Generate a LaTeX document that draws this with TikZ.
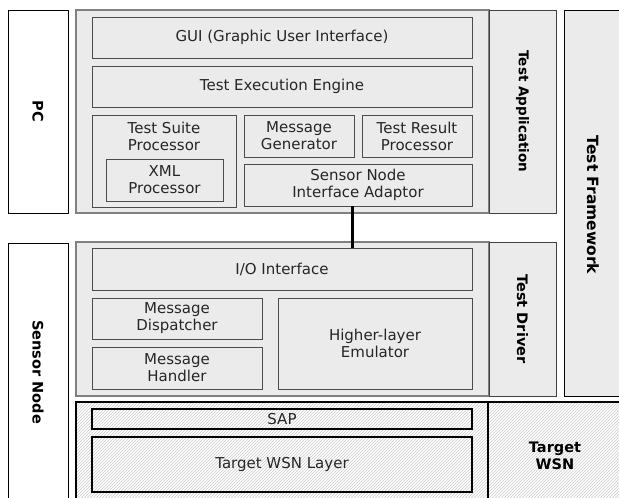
\documentclass[tikz,border=0pt]{standalone}
\usepackage{fontspec}
\setmainfont{DejaVu Sans}
\usetikzlibrary{patterns,calc}
\begin{document}
\begin{tikzpicture}[x=1pt,y=-1pt,
  box/.style={draw=black!70, fill=black!8, line width=0.8pt, inner sep=0pt,
    align=center, font=\fontsize{15}{17}\selectfont, text=black!85},
  container/.style={draw=black!50, fill=black!8, line width=1.5pt, inner sep=0pt},
  column/.style={draw=black!75, fill=black!8, line width=1pt, inner sep=0pt},
  sidebox/.style={draw=black, fill=white, line width=0.8pt, inner sep=0pt},
  lbl/.style={font=\bfseries\fontsize{14.5}{17}\selectfont, rotate=-90, inner sep=0pt},
  wsnbox/.style={draw=black, line width=2.4pt, inner sep=0pt, align=center,
    font=\fontsize{15}{17}\selectfont, text=black!85},
  conn/.style={line width=3pt, black}
]
\useasboundingbox (0,0) rectangle (619,498);
\clip (0,0) rectangle (619,498);
\fill[white] (0,0) rectangle (619,498);

% side boxes
\node[sidebox, minimum width=60, minimum height=203] (pc) at (38,111.5) {};
\node[lbl] at (pc.center) {PC};
\node[sidebox, minimum width=60, minimum height=280] (sn) at (38,383) {};
\node[lbl] at (38,372) {Sensor Node};

% test framework
\node[draw=black, fill=black!8, line width=0.8pt, minimum width=70, minimum height=386, inner sep=0pt] (tf) at (599,203) {};
\node[lbl, font=\bfseries\fontsize{15.5}{17}\selectfont] at (593,205) {Test Framework};

% test application
\node[container, minimum width=413, minimum height=203] (app) at (282.5,111.5) {};
\node[column, minimum width=67, minimum height=203] (appcol) at (522.5,111.5) {};
\node[lbl, font=\bfseries\fontsize{13.5}{17}\selectfont] at (appcol.center) {Test Application};

\node[box, minimum width=380, minimum height=41] (gui) at (282,37.5) {GUI (Graphic User Interface)};
\node[box, minimum width=380, minimum height=41] (tee) at (282,86.5) {Test Execution Engine};
\node[box, minimum width=144, minimum height=92] (tsp) at (164,161) {};
\node[align=center, font=\fontsize{15}{17}\selectfont, text=black!85] at (tsp.center |- 0,136.5) {Test Suite\\Processor};
\node[box, minimum width=117, minimum height=42] (xml) at (164.5,180) {XML\\Processor};
\node[box, minimum width=110, minimum height=42] (mg) at (299,136) {Message\\Generator};
\node[box, minimum width=110, minimum height=42] (trp) at (417,136) {Test Result\\Processor};
\node[box, minimum width=228, minimum height=42] (snia) at (358,185) {Sensor Node\\Interface Adaptor};

% test driver
\node[container, minimum width=413, minimum height=154] (drv) at (282.5,319) {};
\node[column, minimum width=67, minimum height=154] (drvcol) at (522.5,319) {};
\node[lbl] at (drvcol.center) {Test Driver};

\node[box, minimum width=380, minimum height=42] (io) at (282,269) {I/O Interface};
\node[box, minimum width=170, minimum height=41] (md) at (177,318.5) {Message\\Dispatcher};
\node[box, minimum width=170, minimum height=42] (mh) at (177,368) {Message\\Handler};
\node[box, minimum width=194, minimum height=91] (hle) at (375,343.5) {Higher-layer\\Emulator};

% connector
\draw[conn] ([xshift=-6]snia.south) -- ([xshift=-6]snia.south |- io.north);

% target WSN region
\node[inner sep=0pt, minimum width=564, minimum height=118, fill=white,
  pattern=north east lines, pattern color=black!20] (wsn) at (358,461) {};
\draw[line width=2.5pt] (wsn.north east) -- (wsn.north west) -- (wsn.south west);
\draw[line width=2.4pt] (488,402) -- (488,520);
\node[wsnbox, minimum width=380, minimum height=20] (sap) at (282,419) {SAP};
\node[wsnbox, minimum width=380, minimum height=55] (twl) at (282,464.5) {Target WSN Layer};
\node[align=center, font=\bfseries\fontsize{14.5}{17}\selectfont] (tw) at (555,456) {Target\\WSN};
\end{tikzpicture}
\end{document}
